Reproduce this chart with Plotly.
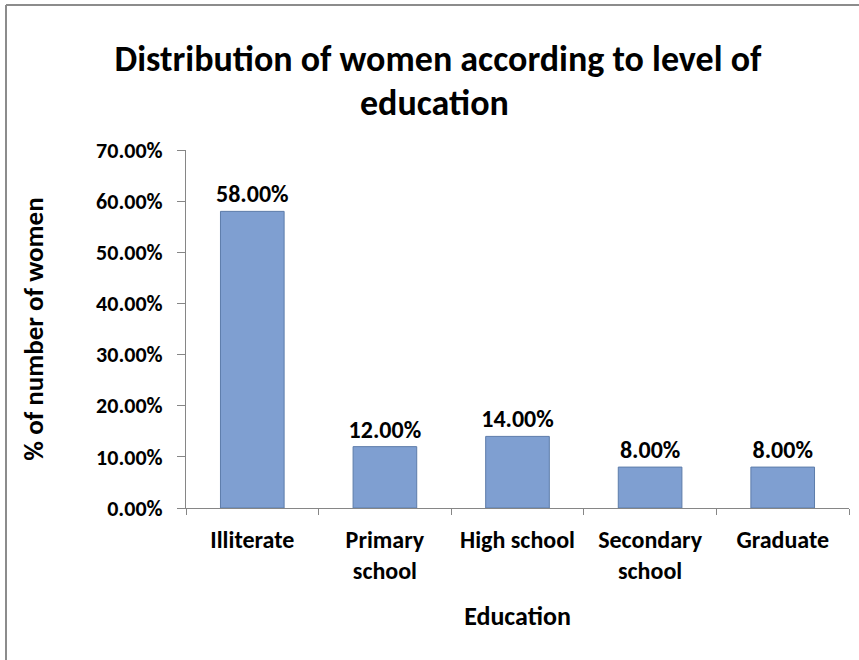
import plotly.graph_objects as go

categories = ["Illiterate", "Primary<br>school", "High school", "Secondary<br>school", "Graduate"]
values = [0.58, 0.12, 0.14, 0.08, 0.08]
tick_vals = [0, 0.1, 0.2, 0.3, 0.4, 0.5, 0.6, 0.7]
title_lines = ["Distribution of women according to level of", "education"]

W, H = 859, 660
L, R, T, B = 186, 10, 150, 152
FONT = "Carlito, Calibri, Lato, sans-serif"

pw = W - L - R
ph = H - T - B
def px(x):
    return (x - L) / pw
def py(y):
    return (H - B - y) / ph

fig = go.Figure()
fig.add_trace(go.Bar(
    x=categories, y=values,
    marker=dict(color="#7f9fd1", line=dict(color="#5d7caa", width=1)),
    text=[f"{v:.2%}" for v in values],
    texttemplate="<b>%{text}</b>",
    textposition="outside",
    constraintext="none",
    textfont=dict(family=FONT, size=24, color="black"),
    cliponaxis=False,
    width=0.48,
))

fig.update_layout(
    width=W, height=H,
    margin=dict(l=L, r=R, t=T, b=B),
    paper_bgcolor="white", plot_bgcolor="white",
    showlegend=False,
    font=dict(family=FONT, color="black"),
    title=dict(
        text=f"<b>{title_lines[0]}</b>",
        x=438 / W, xanchor="center", xref="container",
        y=1 - 58 / H, yanchor="middle", yref="container",
        font=dict(family=FONT, size=36, color="black"),
    ),
    xaxis=dict(
        type="category",
        showline=True, linecolor="#868686", linewidth=1,
        ticks="outside", ticklen=6, tickcolor="#868686", tickson="boundaries",
        tickfont=dict(family=FONT, size=24, color="black"),
        ticklabelstandoff=10,
        tickvals=categories, ticktext=[f"<b>{c}</b>" for c in categories],
        title=dict(text="<b>Education</b>", font=dict(family=FONT, size=26, color="black"), standoff=22),
        showgrid=False,
    ),
    yaxis=dict(
        range=[0, 0.7], tickvals=tick_vals,
        ticktext=[f"<b>{v:.2%}</b>" for v in tick_vals],
        showline=True, linecolor="#868686", linewidth=1,
        ticks="outside", ticklen=8, tickcolor="#868686",
        tickfont=dict(family=FONT, size=22, color="black"),
        ticklabelstandoff=10,
        title=dict(text="<b>% of number of women</b>", font=dict(family=FONT, size=27, color="black"), standoff=44),
        showgrid=False, zeroline=False,
    ),
)

fig.add_annotation(
    text=f"<b>{title_lines[1]}</b>", xref="paper", yref="paper",
    x=px(434), y=py(103), xanchor="center", yanchor="middle",
    showarrow=False, font=dict(family=FONT, size=36, color="black"),
)

# chart frame
fig.add_shape(type="line", xref="paper", yref="paper",
              x0=px(6), x1=px(W + 2), y0=py(5), y1=py(5),
              line=dict(color="#8c8c8c", width=2))
fig.add_shape(type="line", xref="paper", yref="paper",
              x0=px(6), x1=px(6), y0=py(5), y1=py(H + 2),
              line=dict(color="#8c8c8c", width=2))

fig.write_html("out.html")
